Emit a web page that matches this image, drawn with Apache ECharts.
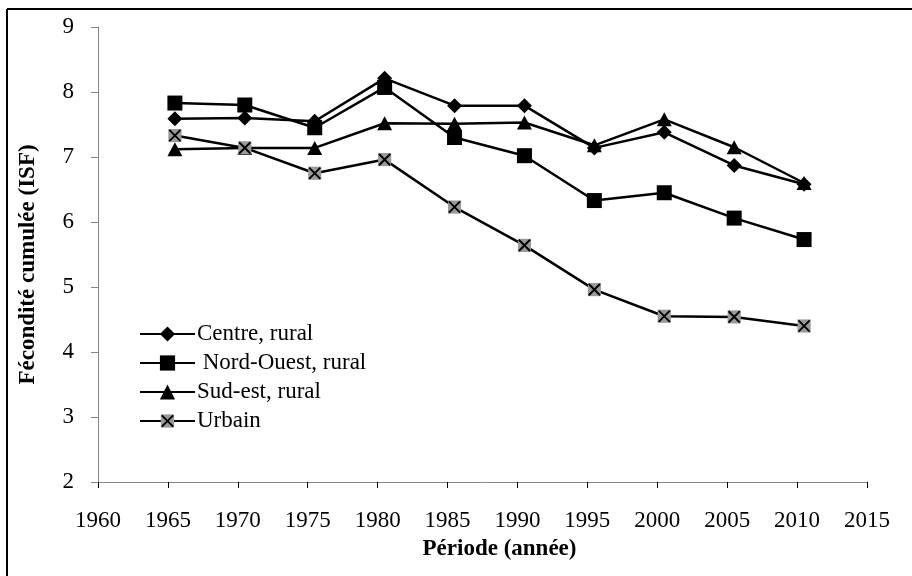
<!DOCTYPE html>
<html>
<head>
<meta charset="utf-8">
<script src="https://cdn.jsdelivr.net/npm/echarts@6/dist/echarts.min.js"></script>
<style>
html,body{margin:0;padding:0;background:#fff;}
#chart{width:912px;height:576px;}
</style>
</head>
<body>
<div id="chart"></div>
<script>
var periods = [1965.5, 1970.5, 1975.5, 1980.5, 1985.5, 1990.5, 1995.5, 2000.5, 2005.5, 2010.5];
var centreRural = [7.59, 7.60, 7.55, 8.21, 7.79, 7.79, 7.14, 7.38, 6.87, 6.58];
var nordOuestRural = [7.83, 7.80, 7.45, 8.07, 7.30, 7.02, 6.33, 6.45, 6.06, 5.73];
var sudEstRural = [7.12, 7.14, 7.14, 7.52, 7.51, 7.53, 7.18, 7.58, 7.15, 6.60];
var urbain = [7.33, 7.14, 6.75, 6.96, 6.23, 5.64, 4.96, 4.55, 4.54, 4.40];
var seriesNames = ['Centre, rural', ' Nord-Ouest, rural', 'Sud-est, rural', 'Urbain'];

function pairs(vals){ return periods.map(function(p,i){ return [p, vals[i]]; }); }

var FONT = '"Liberation Serif", "Times New Roman", serif';
var urbainSvg = "<svg xmlns='http://www.w3.org/2000/svg' width='16' height='16' viewBox='0 0 16 16'>" +
  "<rect x='1' y='1' width='14' height='14' fill='#999999'/>" +
  "<path d='M2 2L14 14M14 2L2 14' stroke='#000' stroke-width='2'/></svg>";
var urbainSymbol = 'image://data:image/svg+xml;charset=utf-8,' + encodeURIComponent(urbainSvg);

function lineSeries(name, vals, symbol, size){
  return {
    name: name, type: 'line', data: pairs(vals),
    symbol: symbol, symbolSize: size,
    itemStyle: {color: '#000', borderWidth: 0},
    lineStyle: {color: '#000', width: 2.5},
    emphasis: {disabled: true},
    animation: false
  };
}

var chart = echarts.init(document.getElementById('chart'));
chart.setOption({
  backgroundColor: '#fff',
  animation: false,
  graphic: [
    {type: 'line', shape: {x1: 7, y1: 9, x2: 912, y2: 9}, style: {stroke: '#000', lineWidth: 2}},
    {type: 'line', shape: {x1: 7, y1: 9, x2: 7, y2: 576}, style: {stroke: '#000', lineWidth: 2}}
  ],
  grid: {left: 98, right: 45, top: 27, bottom: 94},
  legend: {
    orient: 'vertical', left: 134, top: 317,
    itemWidth: 55, itemHeight: 19, itemGap: 5,
    textStyle: {fontFamily: FONT, fontSize: 23, color: '#000', lineHeight: 24, padding: [0,0,0,-3]},
    data: seriesNames
  },
  xAxis: {
    type: 'value', min: 1960, max: 2015, interval: 5,
    name: 'Période (année)', nameLocation: 'middle', nameGap: 56,
    nameTextStyle: {fontFamily: FONT, fontSize: 23, fontWeight: 'bold', color: '#000', padding: [0,0,0,34]},
    axisLine: {show: true, lineStyle: {color: '#868686', width: 1}},
    axisTick: {show: true, inside: false, length: 6, lineStyle: {color: '#000'}},
    axisLabel: {fontFamily: FONT, fontSize: 23, color: '#000', margin: 27,
      formatter: function(v){ return String(v); }},
    splitLine: {show: false}
  },
  yAxis: {
    type: 'value', min: 2, max: 9, interval: 1,
    name: 'Fécondité cumulée (ISF)', nameLocation: 'middle', nameGap: 58,
    nameTextStyle: {fontFamily: FONT, fontSize: 23, fontWeight: 'bold', color: '#000', padding: [0,20,0,0]},
    axisLine: {show: true, lineStyle: {color: '#868686', width: 1}},
    axisTick: {show: true, inside: false, length: 7, lineStyle: {color: '#868686'}},
    axisLabel: {fontFamily: FONT, fontSize: 23, color: '#000', margin: 24},
    splitLine: {show: false}
  },
  series: [
    lineSeries(seriesNames[0], centreRural, 'diamond', [15, 15]),
    lineSeries(seriesNames[1], nordOuestRural, 'rect', [15, 15]),
    lineSeries(seriesNames[2], sudEstRural, 'triangle', [15, 14]),
    lineSeries(seriesNames[3], urbain, urbainSymbol, [15, 15])
  ]
});
</script>
</body>
</html>
